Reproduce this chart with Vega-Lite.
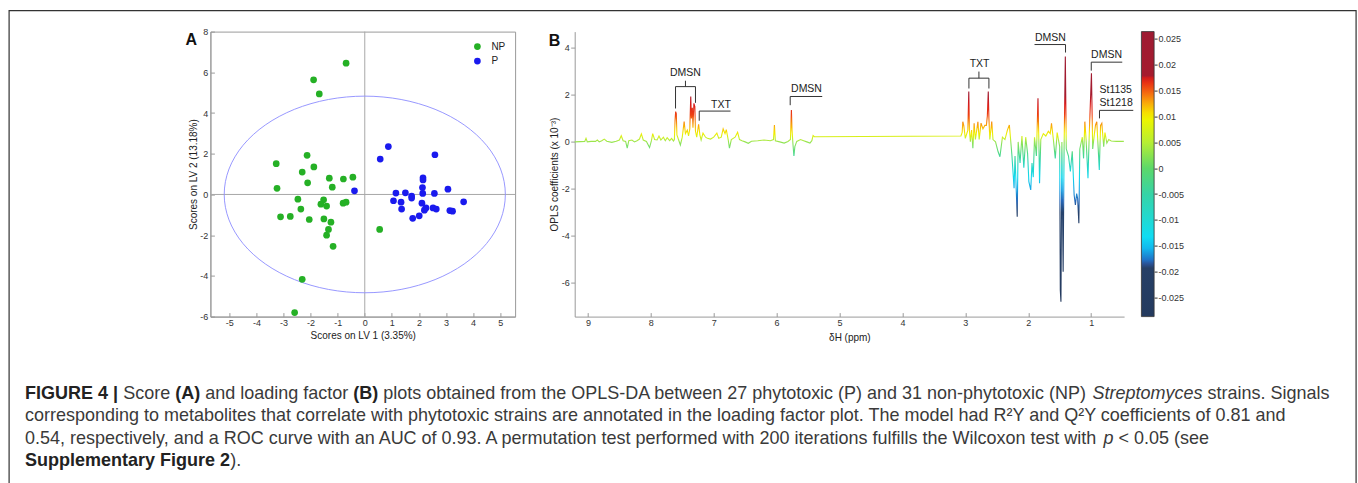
{
  "$schema": "https://vega.github.io/schema/vega-lite/v6.json",
  "padding": {"left": 7.4, "top": 8.6, "right": 2, "bottom": 0},
  "background": "white",
  "bounds": "flush",
  "spacing": 59.3,
  "resolve": {"scale": {"color": "independent"}, "legend": {"color": "independent"}},
  "config": {
    "font": "Liberation Sans",
    "view": {"stroke": null},
    "axis": {"grid": false, "labelFont": "Liberation Sans", "titleFont": "Liberation Sans", "labelFontSize": 9, "labelColor": "#333", "titleFontSize": 10, "titleFontWeight": "normal", "titleColor": "#222", "domainColor": "#9a9a9a", "tickColor": "#9a9a9a", "labelOverlap": false},
    "legend": {"labelFont": "Liberation Sans"}
  },
  "datasets": {
    "scores": [
      {"lv1": -0.69, "lv2": 6.45, "g": "NP"}, {"lv1": -1.89, "lv2": 5.63, "g": "NP"}, {"lv1": -1.68, "lv2": 4.94, "g": "NP"},
      {"lv1": -2.13, "lv2": 1.92, "g": "NP"}, {"lv1": -3.27, "lv2": 1.51, "g": "NP"}, {"lv1": -1.88, "lv2": 1.35, "g": "NP"},
      {"lv1": -2.31, "lv2": 1.1, "g": "NP"}, {"lv1": -1.31, "lv2": 0.8, "g": "NP"}, {"lv1": -0.44, "lv2": 0.85, "g": "NP"},
      {"lv1": -0.79, "lv2": 0.76, "g": "NP"}, {"lv1": -2.11, "lv2": 0.57, "g": "NP"}, {"lv1": -1.2, "lv2": 0.36, "g": "NP"},
      {"lv1": -3.24, "lv2": 0.3, "g": "NP"}, {"lv1": -2.47, "lv2": -0.23, "g": "NP"}, {"lv1": -1.52, "lv2": -0.26, "g": "NP"},
      {"lv1": -1.62, "lv2": -0.48, "g": "NP"}, {"lv1": -1.41, "lv2": -0.57, "g": "NP"}, {"lv1": -2.36, "lv2": -0.72, "g": "NP"},
      {"lv1": -0.8, "lv2": -0.43, "g": "NP"}, {"lv1": -0.69, "lv2": -0.38, "g": "NP"}, {"lv1": -3.11, "lv2": -1.1, "g": "NP"},
      {"lv1": -2.75, "lv2": -1.08, "g": "NP"}, {"lv1": -2.05, "lv2": -1.23, "g": "NP"}, {"lv1": -1.51, "lv2": -1.2, "g": "NP"},
      {"lv1": -1.25, "lv2": -1.36, "g": "NP"}, {"lv1": -1.34, "lv2": -1.72, "g": "NP"}, {"lv1": -1.41, "lv2": -2.0, "g": "NP"},
      {"lv1": -1.17, "lv2": -2.55, "g": "NP"}, {"lv1": 0.55, "lv2": -1.72, "g": "NP"}, {"lv1": -2.31, "lv2": -4.17, "g": "NP"},
      {"lv1": -2.59, "lv2": -5.8, "g": "NP"},
      {"lv1": 0.87, "lv2": 2.35, "g": "P"}, {"lv1": 0.57, "lv2": 1.74, "g": "P"}, {"lv1": 2.59, "lv2": 1.95, "g": "P"},
      {"lv1": 2.15, "lv2": 0.82, "g": "P"}, {"lv1": 2.15, "lv2": 0.71, "g": "P"}, {"lv1": -0.38, "lv2": 0.18, "g": "P"},
      {"lv1": 2.13, "lv2": 0.34, "g": "P"}, {"lv1": 3.07, "lv2": 0.26, "g": "P"}, {"lv1": 1.15, "lv2": 0.07, "g": "P"},
      {"lv1": 1.5, "lv2": 0.08, "g": "P"}, {"lv1": 2.14, "lv2": 0.05, "g": "P"}, {"lv1": 2.57, "lv2": 0.05, "g": "P"},
      {"lv1": 1.73, "lv2": -0.08, "g": "P"}, {"lv1": 1.73, "lv2": -0.18, "g": "P"}, {"lv1": 1.06, "lv2": -0.31, "g": "P"},
      {"lv1": 1.34, "lv2": -0.38, "g": "P"}, {"lv1": 3.65, "lv2": -0.36, "g": "P"}, {"lv1": 2.11, "lv2": -0.43, "g": "P"},
      {"lv1": 1.36, "lv2": -0.72, "g": "P"}, {"lv1": 2.26, "lv2": -0.66, "g": "P"}, {"lv1": 2.2, "lv2": -0.77, "g": "P"},
      {"lv1": 2.52, "lv2": -0.66, "g": "P"}, {"lv1": 2.64, "lv2": -0.72, "g": "P"}, {"lv1": 3.14, "lv2": -0.79, "g": "P"},
      {"lv1": 3.24, "lv2": -0.82, "g": "P"}, {"lv1": 2.01, "lv2": -1.05, "g": "P"}, {"lv1": 1.77, "lv2": -1.17, "g": "P"}
    ],
    "ellipse": [
      {"i": 0, "lv1": 5.19, "lv2": 0}, {"i": 1, "lv1": 5.013, "lv2": 1.25}, {"i": 2, "lv1": 4.495, "lv2": 2.415},
      {"i": 3, "lv1": 3.67, "lv2": 3.415}, {"i": 4, "lv1": 2.595, "lv2": 4.183}, {"i": 5, "lv1": 1.343, "lv2": 4.665},
      {"i": 6, "lv1": 0, "lv2": 4.83}, {"i": 7, "lv1": -1.343, "lv2": 4.665}, {"i": 8, "lv1": -2.595, "lv2": 4.183},
      {"i": 9, "lv1": -3.67, "lv2": 3.415}, {"i": 10, "lv1": -4.495, "lv2": 2.415}, {"i": 11, "lv1": -5.013, "lv2": 1.25},
      {"i": 12, "lv1": -5.19, "lv2": 0}, {"i": 13, "lv1": -5.013, "lv2": -1.25}, {"i": 14, "lv1": -4.495, "lv2": -2.415},
      {"i": 15, "lv1": -3.67, "lv2": -3.415}, {"i": 16, "lv1": -2.595, "lv2": -4.183}, {"i": 17, "lv1": -1.343, "lv2": -4.665},
      {"i": 18, "lv1": 0, "lv2": -4.83}, {"i": 19, "lv1": 1.343, "lv2": -4.665}, {"i": 20, "lv1": 2.595, "lv2": -4.183},
      {"i": 21, "lv1": 3.67, "lv2": -3.415}, {"i": 22, "lv1": 4.495, "lv2": -2.415}, {"i": 23, "lv1": 5.013, "lv2": -1.25}
    ],
    "zeroX": [{"lv1": 0, "lv2": -6, "lv2e": 8}],
    "zeroY": [{"lv1": -5.7, "lv1e": 5.55, "lv2": 0}],
    "panelA": [{"lbl": "A", "lv1": -6.41, "lv2": 7.34}],
    "panelB": [{"lbl": "B", "ppm": 9.53, "v": 4.094}],
    "spectrum": [
      {"ppm": 9.21, "v": 0.0}, {"ppm": 9.12, "v": 0.01}, {"ppm": 9.05, "v": 0.02}, {"ppm": 9.03, "v": 0.15}, {"ppm": 9.01, "v": 0.0},
      {"ppm": 8.95, "v": 0.02}, {"ppm": 8.88, "v": 0.02}, {"ppm": 8.85, "v": 0.08}, {"ppm": 8.82, "v": 0.0}, {"ppm": 8.78, "v": 0.05},
      {"ppm": 8.74, "v": 0.12}, {"ppm": 8.7, "v": 0.03}, {"ppm": 8.62, "v": -0.02}, {"ppm": 8.55, "v": 0.03}, {"ppm": 8.5, "v": 0.08},
      {"ppm": 8.47, "v": 0.26}, {"ppm": 8.44, "v": 0.05}, {"ppm": 8.4, "v": 0.02}, {"ppm": 8.375, "v": -0.27}, {"ppm": 8.35, "v": 0.05},
      {"ppm": 8.3, "v": 0.08}, {"ppm": 8.26, "v": 0.0}, {"ppm": 8.22, "v": 0.05}, {"ppm": 8.18, "v": 0.12}, {"ppm": 8.15, "v": 0.34},
      {"ppm": 8.12, "v": 0.08}, {"ppm": 8.07, "v": 0.02}, {"ppm": 8.02, "v": -0.24}, {"ppm": 7.99, "v": 0.05}, {"ppm": 7.97, "v": 0.35},
      {"ppm": 7.94, "v": 0.1}, {"ppm": 7.9, "v": 0.08}, {"ppm": 7.87, "v": 0.25}, {"ppm": 7.84, "v": 0.08}, {"ppm": 7.8, "v": 0.2},
      {"ppm": 7.77, "v": 0.05}, {"ppm": 7.74, "v": 0.18}, {"ppm": 7.7, "v": 0.05}, {"ppm": 7.67, "v": 0.15}, {"ppm": 7.64, "v": 0.04},
      {"ppm": 7.625, "v": 0.1}, {"ppm": 7.615, "v": 0.9}, {"ppm": 7.605, "v": 1.29}, {"ppm": 7.595, "v": 1.2}, {"ppm": 7.585, "v": 0.3},
      {"ppm": 7.56, "v": 0.1}, {"ppm": 7.53, "v": -0.13}, {"ppm": 7.5, "v": 0.2}, {"ppm": 7.47, "v": 0.86}, {"ppm": 7.45, "v": 0.35},
      {"ppm": 7.42, "v": 0.5}, {"ppm": 7.4, "v": 0.25}, {"ppm": 7.38, "v": 0.55}, {"ppm": 7.365, "v": 1.93}, {"ppm": 7.355, "v": 1.0},
      {"ppm": 7.34, "v": 1.45}, {"ppm": 7.33, "v": 0.6}, {"ppm": 7.315, "v": 1.64}, {"ppm": 7.3, "v": 1.5}, {"ppm": 7.29, "v": 0.45},
      {"ppm": 7.27, "v": 0.2}, {"ppm": 7.24, "v": 0.75}, {"ppm": 7.22, "v": 0.3}, {"ppm": 7.2, "v": 0.08}, {"ppm": 7.17, "v": 0.37},
      {"ppm": 7.13, "v": 0.2}, {"ppm": 7.1, "v": 0.15}, {"ppm": 7.05, "v": 0.12}, {"ppm": 7.0, "v": 0.2}, {"ppm": 6.95, "v": 0.37},
      {"ppm": 6.92, "v": 0.15}, {"ppm": 6.88, "v": 0.2}, {"ppm": 6.85, "v": 0.55}, {"ppm": 6.82, "v": 0.35}, {"ppm": 6.8, "v": 0.52},
      {"ppm": 6.77, "v": 0.1}, {"ppm": 6.75, "v": -0.27}, {"ppm": 6.72, "v": 0.1}, {"ppm": 6.66, "v": 0.2}, {"ppm": 6.62, "v": 0.41},
      {"ppm": 6.59, "v": 0.1}, {"ppm": 6.55, "v": 0.05}, {"ppm": 6.5, "v": 0.0}, {"ppm": 6.45, "v": -0.06}, {"ppm": 6.4, "v": 0.03},
      {"ppm": 6.3, "v": 0.05}, {"ppm": 6.2, "v": 0.08}, {"ppm": 6.1, "v": 0.05}, {"ppm": 6.05, "v": 0.1}, {"ppm": 6.035, "v": 0.72},
      {"ppm": 6.02, "v": 0.05}, {"ppm": 5.95, "v": 0.0}, {"ppm": 5.88, "v": -0.05}, {"ppm": 5.82, "v": 0.02}, {"ppm": 5.78, "v": 0.1},
      {"ppm": 5.765, "v": 1.36}, {"ppm": 5.755, "v": 0.5}, {"ppm": 5.74, "v": -0.1}, {"ppm": 5.725, "v": -0.6}, {"ppm": 5.71, "v": -0.2},
      {"ppm": 5.68, "v": 0.02}, {"ppm": 5.62, "v": 0.1}, {"ppm": 5.57, "v": 0.05}, {"ppm": 5.52, "v": 0.0}, {"ppm": 5.47, "v": -0.05},
      {"ppm": 5.44, "v": 0.05}, {"ppm": 5.42, "v": 0.27}, {"ppm": 5.4, "v": 0.22}, {"ppm": 3.07, "v": 0.25}, {"ppm": 3.05, "v": 0.4},
      {"ppm": 3.04, "v": 0.86}, {"ppm": 3.025, "v": 0.7}, {"ppm": 3.0, "v": 0.15}, {"ppm": 2.96, "v": 0.5}, {"ppm": 2.945, "v": 2.14},
      {"ppm": 2.935, "v": 0.5}, {"ppm": 2.92, "v": 0.01}, {"ppm": 2.9, "v": 0.5}, {"ppm": 2.88, "v": -0.27}, {"ppm": 2.86, "v": 0.79},
      {"ppm": 2.84, "v": 0.1}, {"ppm": 2.8, "v": 0.85}, {"ppm": 2.78, "v": 0.1}, {"ppm": 2.75, "v": 0.8}, {"ppm": 2.72, "v": 0.55},
      {"ppm": 2.69, "v": 0.7}, {"ppm": 2.665, "v": 0.7}, {"ppm": 2.65, "v": 1.1}, {"ppm": 2.635, "v": 2.14}, {"ppm": 2.625, "v": 1.0},
      {"ppm": 2.61, "v": 0.1}, {"ppm": 2.58, "v": 0.86}, {"ppm": 2.56, "v": 0.1}, {"ppm": 2.52, "v": 0.0}, {"ppm": 2.48, "v": -0.41},
      {"ppm": 2.45, "v": -0.63}, {"ppm": 2.41, "v": 0.2}, {"ppm": 2.37, "v": 0.1}, {"ppm": 2.33, "v": 0.51}, {"ppm": 2.3, "v": 0.72},
      {"ppm": 2.28, "v": 0.1}, {"ppm": 2.26, "v": -0.55}, {"ppm": 2.225, "v": -1.97}, {"ppm": 2.21, "v": -0.6}, {"ppm": 2.175, "v": -3.18},
      {"ppm": 2.16, "v": 0.0}, {"ppm": 2.13, "v": -0.9}, {"ppm": 2.1, "v": 0.25}, {"ppm": 2.07, "v": -1.1}, {"ppm": 2.04, "v": 0.2},
      {"ppm": 2.01, "v": -0.5}, {"ppm": 1.99, "v": -1.69}, {"ppm": 1.96, "v": -2.04}, {"ppm": 1.94, "v": -0.9}, {"ppm": 1.92, "v": -1.5},
      {"ppm": 1.9, "v": 0.2}, {"ppm": 1.87, "v": -0.6}, {"ppm": 1.845, "v": 1.86}, {"ppm": 1.83, "v": -0.1}, {"ppm": 1.82, "v": -1.76},
      {"ppm": 1.8, "v": 0.1}, {"ppm": 1.76, "v": 0.35}, {"ppm": 1.72, "v": 0.25}, {"ppm": 1.68, "v": 0.45}, {"ppm": 1.65, "v": 0.35},
      {"ppm": 1.63, "v": 0.79}, {"ppm": 1.6, "v": 0.1}, {"ppm": 1.57, "v": -0.7}, {"ppm": 1.54, "v": 0.4}, {"ppm": 1.5, "v": -0.2},
      {"ppm": 1.49, "v": -6.3}, {"ppm": 1.48, "v": -6.8}, {"ppm": 1.465, "v": 0.0}, {"ppm": 1.445, "v": -5.52}, {"ppm": 1.43, "v": -0.3},
      {"ppm": 1.41, "v": 3.63}, {"ppm": 1.395, "v": -0.3}, {"ppm": 1.36, "v": -0.6}, {"ppm": 1.33, "v": -1.26}, {"ppm": 1.3, "v": -0.4},
      {"ppm": 1.27, "v": -2.26}, {"ppm": 1.25, "v": -2.68}, {"ppm": 1.23, "v": -2.2}, {"ppm": 1.215, "v": -2.4}, {"ppm": 1.195, "v": -3.46},
      {"ppm": 1.18, "v": -0.3}, {"ppm": 1.14, "v": 0.2}, {"ppm": 1.12, "v": -0.7}, {"ppm": 1.1, "v": 0.86}, {"ppm": 1.08, "v": 0.1},
      {"ppm": 1.05, "v": -1.55}, {"ppm": 1.03, "v": 0.3}, {"ppm": 0.995, "v": 2.92}, {"ppm": 0.975, "v": -0.3}, {"ppm": 0.95, "v": 0.3},
      {"ppm": 0.93, "v": 0.72}, {"ppm": 0.91, "v": 0.86}, {"ppm": 0.87, "v": -1.19}, {"ppm": 0.85, "v": 0.7}, {"ppm": 0.83, "v": 0.79},
      {"ppm": 0.8, "v": -0.2}, {"ppm": 0.78, "v": 0.4}, {"ppm": 0.75, "v": -0.05}, {"ppm": 0.72, "v": 0.1}, {"ppm": 0.68, "v": 0.04},
      {"ppm": 0.6, "v": 0.02}, {"ppm": 0.48, "v": 0.02}
    ],
    "brackets": [
      {"ppm": 7.607, "v": 2.35, "ppm2": 7.29, "v2": 2.35}, {"ppm": 7.449, "v": 2.35, "ppm2": 7.449, "v2": 2.6},
      {"ppm": 7.607, "v": 2.35, "ppm2": 7.607, "v2": 1.42}, {"ppm": 7.29, "v": 2.35, "ppm2": 7.29, "v2": 1.66},
      {"ppm": 7.23, "v": 1.31, "ppm2": 6.733, "v2": 1.31}, {"ppm": 7.23, "v": 1.31, "ppm2": 7.23, "v2": 0.9},
      {"ppm": 5.784, "v": 1.93, "ppm2": 5.275, "v2": 1.93}, {"ppm": 5.784, "v": 1.93, "ppm2": 5.784, "v2": 1.56},
      {"ppm": 2.943, "v": 2.71, "ppm2": 2.625, "v2": 2.71}, {"ppm": 2.784, "v": 2.71, "ppm2": 2.784, "v2": 2.99},
      {"ppm": 2.943, "v": 2.71, "ppm2": 2.943, "v2": 2.27}, {"ppm": 2.625, "v": 2.71, "ppm2": 2.625, "v2": 2.27},
      {"ppm": 1.9, "v": 4.14, "ppm2": 1.407, "v2": 4.14}, {"ppm": 1.407, "v": 4.14, "ppm2": 1.407, "v2": 3.8},
      {"ppm": 0.998, "v": 3.39, "ppm2": 0.505, "v2": 3.39}, {"ppm": 0.998, "v": 3.39, "ppm2": 0.998, "v2": 3.03},
      {"ppm": 0.867, "v": 1.34, "ppm2": 0.33, "v2": 1.34}, {"ppm": 0.867, "v": 1.34, "ppm2": 0.867, "v2": 1.0}
    ],
    "annCenter": [
      {"t": "DMSN", "ppm": 7.45, "v": 2.82}, {"t": "TXT", "ppm": 6.884, "v": 1.46}, {"t": "DMSN", "ppm": 5.525, "v": 2.11},
      {"t": "TXT", "ppm": 2.774, "v": 3.2}, {"t": "DMSN", "ppm": 1.647, "v": 4.31}, {"t": "DMSN", "ppm": 0.755, "v": 3.56}
    ],
    "annLeft": [
      {"t": "St1135", "ppm": 0.867, "v": 2.07}, {"t": "St1218", "ppm": 0.867, "v": 1.545}
    ],
    "colorbar": [{"cx": 0.2005, "cx2": -0.0014, "c1": -0.0287, "c2": 0.0264}],
    "capNormal": [
      {"line": 1, "pos": 98.06, "t": "Score"},
      {"line": 1, "pos": 180.07, "t": "and loading factor"},
      {"line": 1, "pos": 358.14, "t": "plots obtained from the OPLS-DA between 27 phytotoxic (P) and 31 non-phytotoxic (NP)"},
      {"line": 1, "pos": 1182.5, "t": "strains. Signals"},
      {"line": 2, "pos": 0, "t": "corresponding to metabolites that correlate with phytotoxic strains are annotated in the loading factor plot. The model had R²Y and Q²Y coefficients of 0.81 and"},
      {"line": 3, "pos": 0, "t": "0.54, respectively, and a ROC curve with an AUC of 0.93. A permutation test performed with 200 iterations fulfills the Wilcoxon test with"},
      {"line": 3, "pos": 1093.4, "t": "< 0.05 (see"},
      {"line": 4, "pos": 205.1, "t": ")."}
    ],
    "capBold": [
      {"line": 1, "pos": 0, "t": "FIGURE 4 |"},
      {"line": 1, "pos": 150.08, "t": "(A)"},
      {"line": 1, "pos": 328.16, "t": "(B)"},
      {"line": 4, "pos": 0, "t": "Supplementary Figure 2"}
    ],
    "capItalic": [
      {"line": 1, "pos": 1067.47, "t": "Streptomyces"},
      {"line": 3, "pos": 1078.4, "t": "p"}
    ],
    "frame": [{"pos": -16, "pos2": 1331, "line": -16.244, "line2": 5.5}]
  },
  "hconcat": [
    {
      "width": 304.7,
      "height": 285,
      "view": {"stroke": "#9a9a9a"},
      "layer": [
        {
          "encoding": {
            "x": {"field": "lv1", "type": "quantitative", "scale": {"domain": [-5.7, 5.55], "nice": false, "zero": false},
              "axis": {"title": "Scores on LV 1 (3.35%)", "values": [-5, -4, -3, -2, -1, 0, 1, 2, 3, 4, 5], "labelExpr": "'' + datum.value", "labelOverlap": false, "labelFlush": false, "tickSize": -4, "labelPadding": 6, "titlePadding": 3}},
            "y": {"field": "lv2", "type": "quantitative", "scale": {"domain": [-6, 8], "nice": false, "zero": false},
              "axis": {"title": "Scores on LV 2 (13.18%)", "values": [-6, -4, -2, 0, 2, 4, 6, 8], "labelExpr": "'' + datum.value", "labelOverlap": false, "labelFlush": false, "tickSize": -4, "labelPadding": 6.6, "titlePadding": 1}}
          },
          "layer": [
            {
              "data": {"name": "zeroX"},
              "mark": {"type": "rule", "color": "#a8a8a8", "strokeWidth": 1},
              "encoding": {"y2": {"field": "lv2e"}}
            },
            {
              "data": {"name": "zeroY"},
              "mark": {"type": "rule", "color": "#a8a8a8", "strokeWidth": 1},
              "encoding": {"x2": {"field": "lv1e"}}
            },
            {
              "data": {"name": "ellipse"},
              "mark": {"type": "line", "interpolate": "cardinal-closed", "color": "#8c8cff", "strokeWidth": 0.9},
              "encoding": {"order": {"field": "i", "type": "quantitative"}}
            },
            {
              "data": {"name": "scores"},
              "mark": {"type": "point", "filled": true, "size": 45, "opacity": 1},
              "encoding": {
                "color": {"field": "g", "type": "nominal", "scale": {"domain": ["NP", "P"], "range": ["#25b025", "#1a1aee"]},
                  "legend": {"title": null, "orient": "top-right", "offset": 10, "padding": 0, "symbolSize": 45, "symbolType": "circle", "labelFontSize": 10, "labelColor": "#222", "labelOffset": 9, "rowPadding": 4.5, "symbolStrokeWidth": 0}}
              }
            },
            {
              "data": {"name": "panelA"},
              "mark": {"type": "text", "fontWeight": "bold", "fontSize": 16, "align": "center", "baseline": "alphabetic", "color": "#111"},
              "encoding": {"text": {"field": "lbl"}}
            }
          ]
        },
        {
          "encoding": {
            "x": {"field": "pos", "type": "quantitative", "scale": {"domain": [185.3, 490], "nice": false, "zero": false}, "axis": null},
            "y": {"field": "line", "type": "quantitative", "scale": {"domain": [-15.311, -2.644], "nice": false, "zero": false, "reverse": true}, "axis": null}
          },
          "layer": [
            {
              "data": {"name": "frame"},
              "mark": {"type": "rect", "fillOpacity": 0, "stroke": "#333", "strokeWidth": 1.2},
              "encoding": {"x2": {"field": "pos2"}, "y2": {"field": "line2"}}
            },
            {
              "data": {"name": "capNormal"},
              "mark": {"type": "text", "align": "left", "baseline": "alphabetic", "fontSize": 18, "color": "#3a3a3a"},
              "encoding": {"text": {"field": "t"}}
            },
            {
              "data": {"name": "capBold"},
              "mark": {"type": "text", "align": "left", "baseline": "alphabetic", "fontSize": 18, "fontWeight": "bold", "color": "#222"},
              "encoding": {"text": {"field": "t"}}
            },
            {
              "data": {"name": "capItalic"},
              "mark": {"type": "text", "align": "left", "baseline": "alphabetic", "fontSize": 18, "fontStyle": "italic", "color": "#3a3a3a"},
              "encoding": {"text": {"field": "t"}}
            }
          ]
        }
      ],
      "resolve": {"scale": {"x": "independent", "y": "independent"}}
    },
    {
      "width": 549.4,
      "height": 285,
      "layer": [
        {
          "encoding": {
            "x": {"field": "ppm", "type": "quantitative", "scale": {"domain": [0.476, 9.21], "reverse": true, "nice": false, "zero": false},
              "axis": {"title": "δH (ppm)", "values": [1, 2, 3, 4, 5, 6, 7, 8, 9], "labelExpr": "'' + datum.value", "labelOverlap": false, "labelFlush": false, "tickSize": -4, "labelPadding": 6, "titlePadding": 5}},
            "y": {"field": "v", "type": "quantitative", "scale": {"domain": [-7.43, 4.69], "nice": false, "zero": false},
              "axis": {"title": "OPLS coefficients (x 10⁻³)", "values": [-6, -4, -2, 0, 2, 4], "labelExpr": "'' + datum.value", "labelOverlap": false, "labelFlush": false, "tickSize": 4, "labelPadding": 1.5, "titlePadding": 2}}
          },
          "layer": [
            {
              "data": {"name": "spectrum"},
              "mark": {"type": "line", "strokeWidth": 1.1,
                "color": {"gradient": "linear", "x1": 0, "y1": 0, "x2": 0, "y2": 1, "stops": [
                  {"offset": 0, "color": "#9e1b32"}, {"offset": 0.156, "color": "#a51b2e"}, {"offset": 0.195, "color": "#d81c1c"},
                  {"offset": 0.238, "color": "#ee4012"}, {"offset": 0.271, "color": "#f7900c"}, {"offset": 0.295, "color": "#f8c806"},
                  {"offset": 0.314, "color": "#f0ee00"}, {"offset": 0.334, "color": "#c8f02a"}, {"offset": 0.348, "color": "#96e452"},
                  {"offset": 0.396, "color": "#4cd88a"}, {"offset": 0.444, "color": "#28d6c4"}, {"offset": 0.492, "color": "#12d8ee"},
                  {"offset": 0.54, "color": "#18a6e6"}, {"offset": 0.588, "color": "#2466b8"}, {"offset": 0.636, "color": "#26426c"},
                  {"offset": 1, "color": "#243a5e"}]}}
            },
            {
              "data": {"name": "brackets"},
              "mark": {"type": "rule", "color": "#333", "strokeWidth": 1},
              "encoding": {"x2": {"field": "ppm2"}, "y2": {"field": "v2"}}
            },
            {
              "data": {"name": "annCenter"},
              "mark": {"type": "text", "align": "center", "baseline": "alphabetic", "fontSize": 10.5, "color": "#222"},
              "encoding": {"text": {"field": "t"}}
            },
            {
              "data": {"name": "annLeft"},
              "mark": {"type": "text", "align": "left", "baseline": "alphabetic", "fontSize": 10.5, "color": "#222"},
              "encoding": {"text": {"field": "t"}}
            },
            {
              "data": {"name": "panelB"},
              "mark": {"type": "text", "fontWeight": "bold", "fontSize": 16, "align": "center", "baseline": "alphabetic", "color": "#111"},
              "encoding": {"text": {"field": "lbl"}}
            }
          ]
        },
        {
          "data": {"name": "colorbar"},
          "mark": {"type": "rect", "stroke": "#333", "strokeWidth": 0.8,
            "color": {"gradient": "linear", "x1": 0, "y1": 0, "x2": 0, "y2": 1, "stops": [
              {"offset": 0, "color": "#9e1b32"}, {"offset": 0.155, "color": "#a51b2e"}, {"offset": 0.162, "color": "#d21c1c"},
              {"offset": 0.18, "color": "#e83214"}, {"offset": 0.215, "color": "#f56a10"}, {"offset": 0.25, "color": "#f9a80a"},
              {"offset": 0.285, "color": "#f6df00"}, {"offset": 0.31, "color": "#ecf500"}, {"offset": 0.39, "color": "#b5ee34"},
              {"offset": 0.48, "color": "#5cd86a"}, {"offset": 0.57, "color": "#36d4a6"}, {"offset": 0.66, "color": "#20d9d3"},
              {"offset": 0.72, "color": "#10dcf3"}, {"offset": 0.76, "color": "#12b8ee"}, {"offset": 0.8, "color": "#1f74c8"},
              {"offset": 0.815, "color": "#2a5296"}, {"offset": 0.83, "color": "#263f66"}, {"offset": 1, "color": "#243a5e"}]}},
          "encoding": {
            "x": {"field": "cx", "type": "quantitative", "scale": {"domain": [0.476, 9.21], "reverse": true, "nice": false, "zero": false}, "axis": null},
            "x2": {"field": "cx2"},
            "y": {"field": "c1", "type": "quantitative", "scale": {"domain": [-0.0287, 0.0264], "nice": false, "zero": false},
              "axis": {"orient": "right", "offset": 30, "title": null, "domain": false, "values": [-0.025, -0.02, -0.015, -0.01, -0.005, 0, 0.005, 0.01, 0.015, 0.02, 0.025], "labelExpr": "'' + datum.value", "tickSize": 3, "labelPadding": 1, "tickColor": "#333", "labelFontSize": 9}},
            "y2": {"field": "c2"}
          }
        }
      ],
      "resolve": {"scale": {"x": "independent", "y": "independent"}}
    }
  ]
}
